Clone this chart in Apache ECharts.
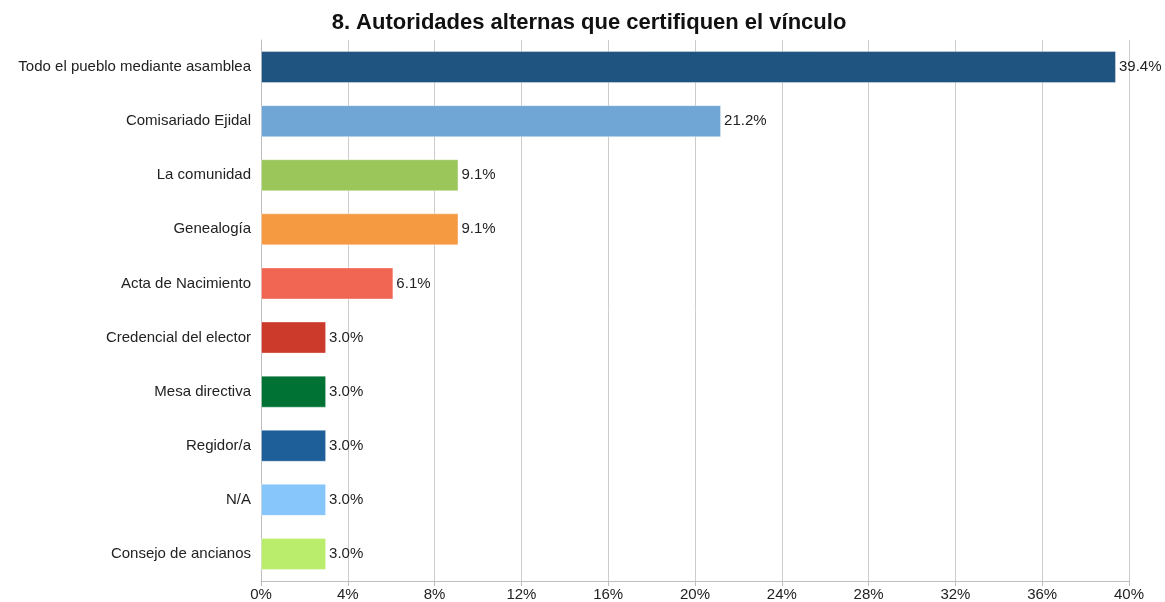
<!DOCTYPE html>
<html>
<head>
<meta charset="utf-8">
<script src="https://cdn.jsdelivr.net/npm/echarts@6/dist/echarts.min.js"></script>
<style>
  html, body { margin: 0; padding: 0; background: #fff; }
  #chart { width: 1165px; height: 602px; }
</style>
</head>
<body>
<div id="chart"></div>
<script>
// 数据
const categories = [
  'Todo el pueblo mediante asamblea',
  'Comisariado Ejidal',
  'La comunidad',
  'Genealogía',
  'Acta de Nacimiento',
  'Credencial del elector',
  'Mesa directiva',
  'Regidor/a',
  'N/A',
  'Consejo de ancianos'
];
const values = [39.4, 21.2, 9.1, 9.1, 6.1, 3.0, 3.0, 3.0, 3.0, 3.0];
const barColors = [
  '#1f5380', '#6fa6d5', '#9bc65a', '#f59a40', '#f06652',
  '#cc3a2b', '#007234', '#1e5f9a', '#86c6fb', '#bbed6c'
];

const chart = echarts.init(document.getElementById('chart'));
const font = '"Liberation Sans", Arial, Helvetica, sans-serif';

const option = {
  animation: false,
  title: {
    text: '8. Autoridades alternas que certifiquen el vínculo',
    left: 584,
    textAlign: 'center',
    top: 7,
    textStyle: { fontFamily: font, fontSize: 22, fontWeight: 'bold', color: '#111' }
  },
  grid: { left: 261, right: 36, top: 40, bottom: 19, containLabel: false },
  xAxis: {
    type: 'value',
    min: 0,
    max: 40,
    interval: 4,
    axisLine: { show: true, lineStyle: { color: '#bdbdbd', width: 1 } },
    axisTick: { show: true, length: 5, lineStyle: { color: '#bdbdbd' } },
    splitLine: { show: true, lineStyle: { color: '#cccccc', width: 1 } },
    axisLabel: {
      formatter: '{value}%',
      fontFamily: font, fontSize: 15, color: '#222', margin: 6
    }
  },
  yAxis: {
    type: 'category',
    inverse: true,
    data: categories,
    axisLine: { show: true, lineStyle: { color: '#bdbdbd', width: 1 } },
    axisTick: { show: false },
    axisLabel: { fontFamily: font, fontSize: 15, color: '#222', margin: 10 }
  },
  series: [{
    type: 'bar',
    barWidth: 32,
    data: values.map((v, i) => ({
      value: v,
      itemStyle: { color: barColors[i], borderColor: 'rgba(255,255,255,0.35)', borderWidth: 1 }
    })),
    label: {
      show: true,
      position: 'right',
      distance: 3,
      formatter: p => p.value.toFixed(1) + '%',
      fontFamily: font, fontSize: 15, color: '#222'
    }
  }]
};

chart.setOption(option);
</script>
</body>
</html>
